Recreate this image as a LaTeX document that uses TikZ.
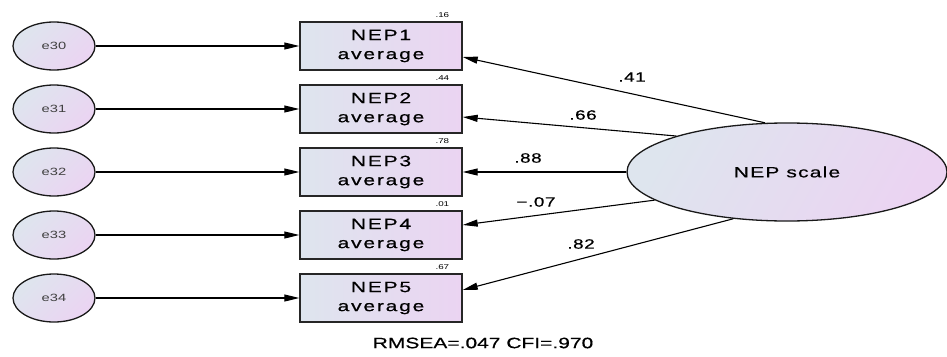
\documentclass[tikz,border=0pt]{standalone}
\usepackage{fontspec}
\setmainfont{Liberation Sans}
\newfontfamily\amosfont[FakeStretch=1.4]{Liberation Sans}
\newfontfamily\boxfont[FakeStretch=1.4,LetterSpace=12,FakeBold=0.6]{Liberation Sans}
\newfontfamily\latfont[FakeStretch=1.4,LetterSpace=8,FakeBold=0.5]{Liberation Sans}
\newfontfamily\coeffont[FakeStretch=1.4,LetterSpace=4,FakeBold=0.5]{Liberation Sans}
\newfontfamily\fitfont[FakeStretch=1.4,FakeBold=0.5]{Liberation Sans}
\usetikzlibrary{arrows.meta,shapes.geometric}
\definecolor{shL}{HTML}{DEE5EE}
\definecolor{shR}{HTML}{EBD4F2}
\begin{document}
\begin{tikzpicture}[x=1pt,y=-1pt,
  obs/.style={draw=black!85,line width=1.4pt,left color=shL,right color=shR,
    minimum width=162pt,minimum height=48pt,inner sep=0pt,align=center,
    font=\boxfont\fontsize{15}{19}\selectfont},
  err/.style={ellipse,draw=black!90,line width=1.3pt,left color=shL,right color=shR,shading angle=45,
    minimum width=82pt,minimum height=48pt,inner sep=0pt,
    font=\amosfont\fontsize{10.5}{12}\selectfont,text=black!75},
  lat/.style={ellipse,draw=black!90,line width=1.3pt,left color=shL,right color=shR,shading angle=60,
    minimum width=320pt,minimum height=98pt,inner sep=0pt,
    font=\latfont\fontsize{15}{18}\selectfont},
  arr/.style={line width=1.1pt,-{Triangle[length=15pt,width=7pt]}},
  coef/.style={font=\coeffont\fontsize{13.5}{15}\selectfont},
  rsq/.style={anchor=base east,font=\amosfont\fontsize{7}{8}\selectfont},
]
\path[use as bounding box] (0,0) rectangle (947,356);
\foreach \i/\y/\r in {1/46/.16,2/109/.44,3/172/.78,4/235/.01,5/298/.67}{
  \node[obs] (n\i) at (381,\y) {NEP\i\\average};
  \node[rsq] (r\i) at ([xshift=-10pt,yshift=4pt]n\i.north east) {\r};
}
\foreach \i/\y/\e in {1/46/30,2/109/31,3/172/32,4/235/33,5/298/34}{
  \node[err] (e\i) at (54,\y) {e\e};
  \draw[arr] (e\i) -- (n\i);
}
\node[lat] (L) at (787,172) {NEP scale};
\draw[arr] (L.114) -- ([yshift=-11pt]n1.east);
\draw[arr] (L.162.6) -- ([yshift=-8pt]n2.east);
\draw[arr] (L.west) -- (n3.east);
\draw[arr] (L.192.6) -- ([yshift=10pt]n4.east);
\draw[arr] (L.221.5) -- ([yshift=8pt]n5.east);
\node[coef] (c1) at (632,77) {.41};
\node[coef] (c2) at (583,115) {.66};
\node[coef] (c3) at (528,158) {.88};
\node[coef] (c4) at (536,202) {−.07};
\node[coef] (c5) at (581,244) {.82};
\node[font=\fitfont\fontsize{15}{18}\selectfont] (fit) at (483,343) {RMSEA=.047 CFI=.970};
\end{tikzpicture}
\end{document}
